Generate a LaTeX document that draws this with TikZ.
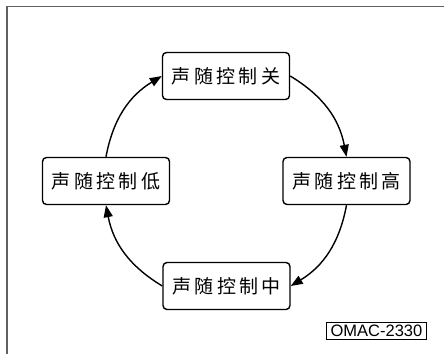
\documentclass[tikz,border=0pt]{standalone}
\usepackage{fontspec}
\setmainfont{Liberation Sans}
\newfontfamily\cjk[LetterSpace=18]{Noto Sans CJK SC}
\usetikzlibrary{arrows.meta}
\usepackage{xcolor}
\definecolor{FrameGray}{RGB}{96, 96, 96}

\begin{document}
\begin{tikzpicture}[
  x=1pt, y=1pt,
  box/.style={%
    rectangle, rounded corners=4pt,
    draw=black, line width=1.4pt, fill=white,
    font=\cjk\fontsize{19}{22}\selectfont,
    minimum height=47pt, minimum width=127pt,
    align=center, inner sep=2pt},
  arr/.style={-{Triangle[length=12pt,width=9pt]}, line width=1.4pt},
  tag/.style={%
    rectangle, draw=black, line width=0.8pt,
    font=\fontsize{16.5}{17}\selectfont,
    text height=12pt, text depth=0pt,
    inner xsep=4.5pt, inner ysep=2.5pt}
]
\useasboundingbox (0,0) rectangle (444,-354);
\draw[FrameGray, line width=1.3pt] (7,-354) -- (7,-6.5) -- (444,-6.5);

\node[box] (guan) at (226,-76)   {声随控制关};
\node[box] (gao)  at (346.5,-181) {声随控制高};
\node[box] (zhong) at (226.5,-286) {声随控制中};
\node[box] (di)   at (106,-181)  {声随控制低};
\node[tag] (code) at (376.5,-330.5) {OMAC-2330};

\draw[arr] (guan.east)  to[bend left=24] (gao.north);
\draw[arr] (gao.south)  to[bend left=24] (zhong.east);
\draw[arr] (zhong.west) to[bend left=24] (di.south);
\draw[arr] (di.north)   to[bend left=24] (guan.west);
\end{tikzpicture}
\end{document}
